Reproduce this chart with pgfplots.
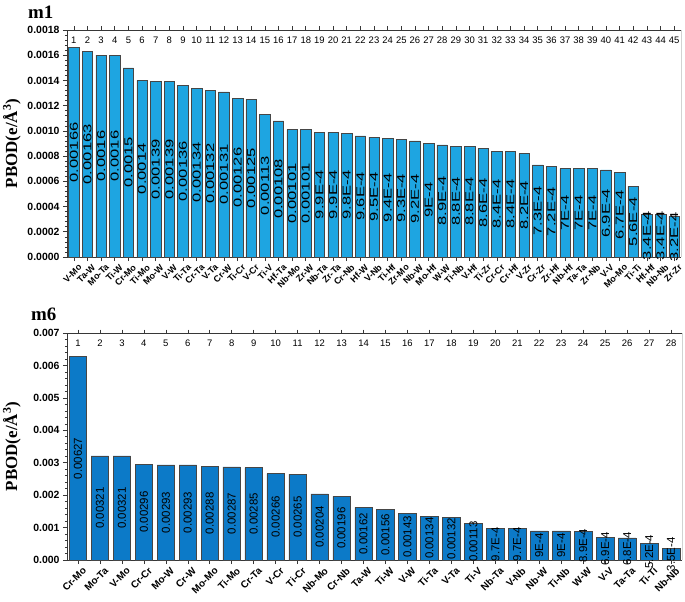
\documentclass[border=0pt]{standalone}
\usepackage{graphicx}
\usepackage{pgfplots}
\pgfplotsset{compat=1.18}
\usepackage{pgfplotstable}
\usepackage{fontspec}
\setmainfont{Liberation Sans}
\newfontfamily\serifbf{Liberation Serif}

\definecolor{barA}{RGB}{30,165,225}
\definecolor{barB}{RGB}{12,122,200}
\definecolor{edge}{RGB}{70,70,70}
\definecolor{axisc}{RGB}{55,55,55}

\pgfplotstableread{
i v lbl name
1 0.00166 0.00166 V-Mo
2 0.00163 0.00163 Ta-W
3 0.0016 0.0016 Mo-Ta
4 0.0016 0.0016 Ti-W
5 0.0015 0.0015 Cr-Mo
6 0.0014 0.0014 Ti-Mo
7 0.00139 0.00139 Mo-W
8 0.00139 0.00139 V-W
9 0.00136 0.00136 Ti-Ta
10 0.00134 0.00134 Cr-Ta
11 0.00132 0.00132 V-Ta
12 0.00131 0.00131 Cr-W
13 0.00126 0.00126 Ti-Cr
14 0.00125 0.00125 V-Cr
15 0.00113 0.00113 Ti-V
16 0.00108 0.00108 Hf-Ta
17 0.00101 0.00101 Nb-Mo
18 0.00101 0.00101 Zr-W
19 0.00099 9.9E-4 Nb-Ta
20 0.00099 9.9E-4 Zr-Ta
21 0.00098 9.8E-4 Cr-Nb
22 0.00096 9.6E-4 Hf-W
23 0.00095 9.5E-4 V-Nb
24 0.00094 9.4E-4 Ti-Hf
25 0.00093 9.3E-4 Zr-Mo
26 0.00092 9.2E-4 Nb-W
27 0.00090 9E-4 Mo-Hf
28 0.00089 8.9E-4 W-W
29 0.00088 8.8E-4 Ti-Nb
30 0.00088 8.8E-4 V-Hf
31 0.00086 8.6E-4 Ti-Zr
32 0.00084 8.4E-4 Cr-Cr
33 0.00084 8.4E-4 Cr-Hf
34 0.00082 8.2E-4 V-Zr
35 0.00073 7.3E-4 Cr-Zr
36 0.00072 7.2E-4 Zr-Hf
37 0.00070 7E-4 Nb-Hf
38 0.00070 7E-4 Ta-Ta
39 0.00070 7E-4 Zr-Nb
40 0.00069 6.9E-4 V-V
41 0.00067 6.7E-4 Mo-Mo
42 0.00056 5.6E-4 Ti-Ti
43 0.00034 3.4E-4 Hf-Hf
44 0.00034 3.4E-4 Nb-Nb
45 0.00032 3.2E-4 Zr-Zr
}\mone

\pgfplotstableread{
i v lbl name
1 0.00627 0.00627 Cr-Mo
2 0.00321 0.00321 Mo-Ta
3 0.00321 0.00321 V-Mo
4 0.00296 0.00296 Cr-Cr
5 0.00293 0.00293 Mo-W
6 0.00293 0.00293 Cr-W
7 0.00288 0.00288 Mo-Mo
8 0.00287 0.00287 Ti-Mo
9 0.00285 0.00285 Cr-Ta
10 0.00266 0.00266 V-Cr
11 0.00265 0.00265 Ti-Cr
12 0.00204 0.00204 Nb-Mo
13 0.00196 0.00196 Cr-Nb
14 0.00162 0.00162 Ta-W
15 0.00156 0.00156 Ti-W
16 0.00143 0.00143 V-W
17 0.00134 0.00134 Ti-Ta
18 0.00132 0.00132 V-Ta
19 0.00113 0.00113 Ti-V
20 0.00097 9.7E-4 Nb-Ta
21 0.00097 9.7E-4 V-Nb
22 0.00090 9E-4 Nb-W
23 0.00090 9E-4 Ti-Nb
24 0.00089 8.9E-4 W-W
25 0.00069 6.9E-4 V-V
26 0.00068 6.8E-4 Ta-Ta
27 0.00052 5.2E-4 Ti-Ti
28 0.00035 3.5E-4 Nb-Nb
}\msix

\pgfplotsset{
  mainax/.style={
    anchor=south west, scale only axis, height=227bp,
    axis lines*=left, tick align=outside,
    axis line style={axisc, line width=0.7bp},
    tick style={axisc, line width=0.6bp},
    major tick length=4bp, minor tick length=2.2bp,
    minor y tick num=4,
    /pgf/number format/assume math mode=true,
    scaled y ticks=false,
    yticklabel style={font=\bfseries\fontsize{10.5}{12}\selectfont, /pgf/number format/fixed, /pgf/number format/fixed zerofill},
    xticklabel style={font=\bfseries\fontsize{9}{10}\selectfont, xshift=4bp, yshift=-1bp, rotate=45, anchor=north east, inner sep=1bp},
    ylabel={\serifbf\bfseries\fontsize{17}{18}\selectfont PBOD(e/Å\textsuperscript{3})},
    ylabel style={at={(axis description cs:-0.0896,0.5)}, anchor=center},
    clip=false,
  },
  topax/.style={
    anchor=south west, scale only axis, height=227bp,
    ymin=0, ymax=1, hide y axis, axis x line*=top,
    tick align=outside, major tick length=3.5bp,
    axis line style={axisc, line width=0.7bp},
    tick style={axisc, line width=0.6bp},
    /pgf/number format/assume math mode=true,
    xticklabel style={font=\fontsize{9.5}{10}\selectfont, anchor=north, yshift=-10bp, inner sep=0pt},
  },
}

\begin{document}
\begin{tikzpicture}
\path[use as bounding box] (0,0) rectangle (685bp,-602bp);

% ---------- m1 ----------
\node[anchor=base west, font=\serifbf\bfseries\fontsize{19}{20}\selectfont, inner sep=0pt] at (28bp,-18bp) {m1};
\begin{axis}[mainax, at={(67bp,-257bp)}, width=614bp,
  xmin=0.5, xmax=45.5, ymin=0, ymax=0.0018,
  ytick={0,0.0002,0.0004,0.0006,0.0008,0.0010,0.0012,0.0014,0.0016,0.0018},
  yticklabel style={/pgf/number format/precision=4},
  xtick={1,...,45}, xticklabels from table={\mone}{name},
]
\addplot[ybar, bar width=10.5bp, bar shift=0pt, fill=barA, draw=edge, line width=0.5bp]
  table[x=i, y=v] {\mone};
\addplot[only marks, mark=none, point meta=explicit symbolic,
  nodes near coords={\scalebox{1.45}[1]{\pgfplotspointmeta}},
  every node near coord/.append style={rotate=90, anchor=center, inner sep=0pt, font=\fontsize{11.5}{12}\selectfont, text=black}]
  table[x=i, y expr=\thisrow{v}/2, meta=lbl] {\mone};
\draw[gray!35, line width=0.6bp] (rel axis cs:1,0) -- (rel axis cs:1,1);
\end{axis}
\begin{axis}[topax, at={(67bp,-257bp)}, width=614bp, xmin=0.5, xmax=45.5, xtick={1,...,45}]
\end{axis}

% ---------- m6 ----------
\node[anchor=base west, font=\serifbf\bfseries\fontsize{19}{20}\selectfont, inner sep=0pt] at (31bp,-320bp) {m6};
\begin{axis}[mainax, at={(67bp,-560bp)}, width=615bp,
  xmin=0.5, xmax=28.5, ymin=0, ymax=0.007,
  ytick={0,0.001,0.002,0.003,0.004,0.005,0.006,0.007},
  yticklabel style={/pgf/number format/precision=3},
  xtick={1,...,28}, xticklabels from table={\msix}{name},
  xticklabel style={font=\bfseries\fontsize{10}{11}\selectfont},
]
\addplot[ybar, bar width=17.5bp, bar shift=0pt, fill=barB, draw=edge, line width=0.5bp]
  table[x=i, y=v] {\msix};
\addplot[only marks, mark=none, point meta=explicit symbolic,
  nodes near coords={\pgfplotspointmeta},
  every node near coord/.append style={rotate=90, anchor=center, inner sep=0pt, font=\fontsize{11.5}{12}\selectfont, text=black}]
  table[x=i, y expr=\thisrow{v}/2, meta=lbl] {\msix};
\draw[gray!35, line width=0.6bp] (rel axis cs:1,0) -- (rel axis cs:1,1);
\end{axis}
\begin{axis}[topax, at={(67bp,-560bp)}, width=615bp, xmin=0.5, xmax=28.5, xtick={1,...,28}]
\end{axis}
\end{tikzpicture}
\end{document}
